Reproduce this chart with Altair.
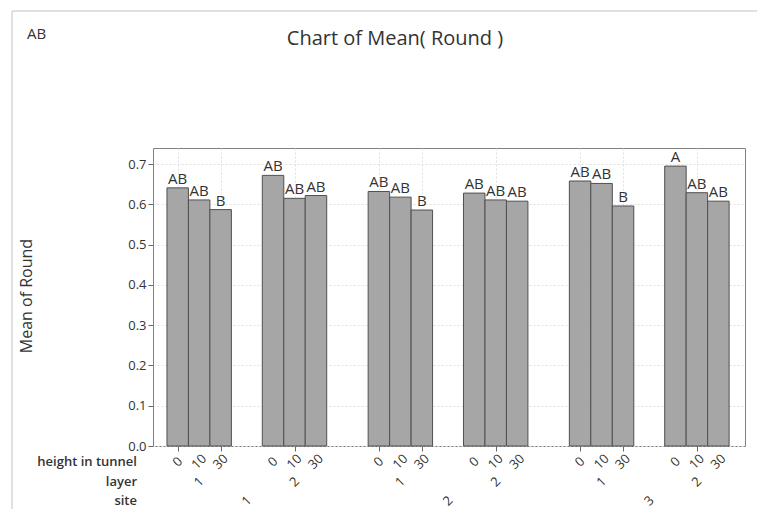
import altair as alt
import pandas as pd

# ---- data ----
sites = ["1", "2", "3"]
layers = ["1", "2"]
heights = ["0", "10", "30"]
means = [0.641, 0.611, 0.587,
         0.672, 0.615, 0.622,
         0.632, 0.618, 0.586,
         0.628, 0.611, 0.608,
         0.658, 0.652, 0.596,
         0.695, 0.629, 0.608]
letters = ["AB", "AB", "B",
           "AB", "AB", "AB",
           "AB", "AB", "B",
           "AB", "AB", "AB",
           "AB", "AB", "B",
           "A", "AB", "AB"]
y_ticks = [0.0, 0.1, 0.2, 0.3, 0.4, 0.5, 0.6, 0.7]

# ---- layout helpers (bar slots on a unit scale) ----
LEFT_PAD, LAYER_GAP, SITE_GAP, RIGHT_PAD = 0.65, 1.44, 1.93, 0.74
rows, groups, site_rows = [], [], []
pos = LEFT_PAD
i = 0
for si, s in enumerate(sites):
    site_start = pos
    for li, l in enumerate(layers):
        g_start = pos
        for h in heights:
            rows.append({"site": s, "layer": l, "height": h, "mean": means[i],
                         "letter": letters[i], "x0": pos, "x1": pos + 1, "xc": pos + 0.5})
            pos += 1
            i += 1
        groups.append({"layer": l, "xc": (g_start + pos) / 2})
        if li < len(layers) - 1:
            pos += LAYER_GAP
    site_rows.append({"site": s, "xc": (site_start + pos) / 2})
    if si < len(sites) - 1:
        pos += SITE_GAP
x_max = pos + RIGHT_PAD

df = pd.DataFrame(rows)
gdf = pd.DataFrame(groups)
sdf = pd.DataFrame(site_rows)

W, H = 592, 298
FONT = "Open Sans"
TXT = "#333333"
Y_H, Y_L, Y_S = 314, 334, 353

xscale = alt.Scale(domain=[0, x_max], nice=False, zero=False)
yscale = alt.Scale(domain=[0, 0.74], nice=False)

base = alt.Chart(df)

bars = base.mark_bar(fill="#a6a6a6", stroke="#505050", strokeWidth=1).encode(
    x=alt.X("x0:Q", scale=xscale,
            axis=alt.Axis(values=list(df["xc"]), labels=False, title=None, domain=False,
                          ticks=True, tickSize=5, tickColor="#666666",
                          grid=True, gridDash=[2, 2], gridColor="#e0e0e0")),
    x2="x1:Q",
    y=alt.Y("mean:Q", scale=yscale,
            axis=alt.Axis(values=y_ticks, format=".1f", title=None, domain=False,
                          tickSize=5, tickColor="#666666", labelFontSize=13,
                          labelColor=TXT, labelFont=FONT, labelPadding=2,
                          grid=True, gridDash=[2, 2], gridColor="#e0e0e0")),
    y2=alt.datum(0),
)

labels = base.mark_text(baseline="bottom", dy=-1, fontSize=15, font=FONT, color=TXT).encode(
    x=alt.X("xc:Q", scale=xscale), y=alt.Y("mean:Q", scale=yscale), text="letter:N")

h_lab = base.mark_text(angle=315, fontSize=13, font=FONT, color=TXT, baseline="middle").encode(
    x=alt.X("xc:Q", scale=xscale), y=alt.value(Y_H), text="height:N")

l_lab = alt.Chart(gdf).mark_text(angle=315, fontSize=13, font=FONT, color=TXT, baseline="middle").encode(
    x=alt.X("xc:Q", scale=xscale), y=alt.value(Y_L), text="layer:N")

s_lab = alt.Chart(sdf).mark_text(angle=315, fontSize=13, font=FONT, color=TXT, baseline="middle").encode(
    x=alt.X("xc:Q", scale=xscale), y=alt.value(Y_S), text="site:N")

row_names = pd.DataFrame({"name": ["height in tunnel", "layer", "site"], "yy": [Y_H, Y_L, Y_S]})
r_lab = alt.Chart(row_names).mark_text(align="right", baseline="middle", fontSize=13,
                                       fontWeight=600, font=FONT, color=TXT).encode(
    x=alt.value(-16), y=alt.Y("yy:Q", scale=None), text="name:N")

ytitle = alt.Chart(pd.DataFrame({"t": ["Mean of Round"]})).mark_text(
    angle=270, baseline="middle", fontSize=16, font=FONT, color=TXT).encode(
    x=alt.value(-126), y=alt.value(148), text="t:N")

title = alt.Chart(pd.DataFrame({"t": ["Chart of Mean( Round )"]})).mark_text(
    baseline="alphabetic", fontSize=20, font=FONT, color=TXT).encode(
    x=alt.value(242), y=alt.value(-103), text="t:N")

corner = alt.Chart(pd.DataFrame({"t": ["AB"]})).mark_text(
    align="left", baseline="alphabetic", fontSize=15, font=FONT, color=TXT).encode(
    x=alt.value(-126), y=alt.value(-109), text="t:N")

frame_top = alt.Chart(pd.DataFrame({"a": [0]})).mark_rule(color="#d6d6d6", strokeWidth=1.5).encode(
    x=alt.value(-141), x2=alt.value(W + 20), y=alt.value(-137))
frame_left = alt.Chart(pd.DataFrame({"a": [0]})).mark_rule(color="#d6d6d6", strokeWidth=1.5).encode(
    x=alt.value(-141), y=alt.value(-137), y2=alt.value(H + 80))

chart = alt.layer(frame_top, frame_left, bars, labels, h_lab, l_lab, s_lab, r_lab,
                  ytitle, title, corner).properties(
    width=W, height=H,
    autosize=alt.AutoSizeParams(type="none"),
    padding={"left": 145, "top": 140, "right": 12, "bottom": 63},
    background="white",
).configure_view(stroke="#808080", strokeWidth=1).configure_axis(labelFont=FONT)

chart.save("out.html", embed_options={"renderer": "svg", "actions": False})
